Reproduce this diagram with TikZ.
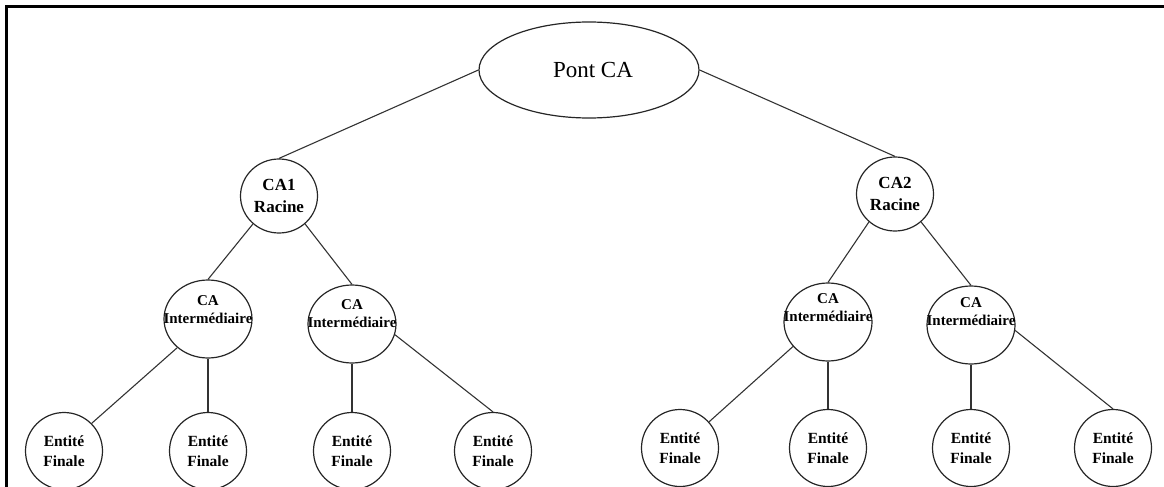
\documentclass[tikz,border=0pt]{standalone}
\usepackage{fontspec}
\setmainfont{Liberation Serif}
\usetikzlibrary{shapes.geometric}
\begin{document}
\begin{tikzpicture}[x=1pt,y=-1pt,
  shp/.style={draw=black!85,line width=1.2pt,ellipse,inner sep=0pt},
  big/.style={shp,minimum width=220pt,minimum height=96pt,font=\fontsize{23}{26}\selectfont},
  rootnode/.style={shp,minimum width=77pt,minimum height=74pt,align=center,font=\bfseries\fontsize{17}{22}\selectfont},
  midnode/.style={shp,minimum width=88pt,minimum height=78pt},
  midtxt/.style={align=center,inner sep=0pt,font=\bfseries\fontsize{15}{18}\selectfont},
  leafnode/.style={shp,minimum width=77pt,minimum height=77pt,align=center,font=\bfseries\fontsize{15.5}{20}\selectfont},
  conn/.style={draw=black!80,line width=1.1pt},
  frame/.style={line width=3pt,line cap=rect}]
\useasboundingbox (0,0) rectangle (1164,487);
\draw[frame] (6.5,490) -- (6.5,6.5) -- (1170,6.5);

\node[big] (pont) at (589,70) {\hspace{8pt}Pont CA};

\node[rootnode] (r1) at (279,196) {CA1\\Racine};
\node[rootnode] (r2) at (895,194) {CA2\\Racine};

\node[midnode] (i1) at (208,319) {};
\node[midtxt] (t1) at (208,310) {CA\\Interm\'ediaire};
\node[midnode] (i2) at (352,324) {};
\node[midtxt] (t2) at (352,314) {CA\\Interm\'ediaire};
\node[midnode] (i3) at (828,322) {};
\node[midtxt] (t3) at (828,308) {CA\\Interm\'ediaire};
\node[midnode] (i4) at (971,325) {};
\node[midtxt] (t4) at (971,312) {CA\\Interm\'ediaire};

\node[leafnode] (l1) at (64,451) {Entit\'e\\Finale};
\node[leafnode] (l2) at (208,451) {Entit\'e\\Finale};
\node[leafnode] (l3) at (352,451) {Entit\'e\\Finale};
\node[leafnode] (l4) at (493,451) {Entit\'e\\Finale};
\node[leafnode] (l5) at (680,448) {Entit\'e\\Finale};
\node[leafnode] (l6) at (828,448) {Entit\'e\\Finale};
\node[leafnode] (l7) at (971,448) {Entit\'e\\Finale};
\node[leafnode] (l8) at (1113,448) {Entit\'e\\Finale};

\draw[conn] (pont.west) -- (r1.north);
\draw[conn] (pont.east) -- (r2.north);
\draw[conn] (r1.227) -- (i1.north);
\draw[conn] (r1.313) -- (i2.north);
\draw[conn] (r2.227) -- (i3.north);
\draw[conn] (r2.313) -- (i4.north);
\draw[conn] (i1.223) -- (l1.45);
\draw[conn] (i1.south) -- (l2.north);
\draw[conn] (i2.south) -- (l3.north);
\draw[conn] (i2.346) -- (l4.north);
\draw[conn] (i3.215) -- (l5.42);
\draw[conn] (i3.south) -- (l6.north);
\draw[conn] (i4.south) -- (l7.north);
\draw[conn] (i4.353) -- (l8.north);
\end{tikzpicture}
\end{document}
